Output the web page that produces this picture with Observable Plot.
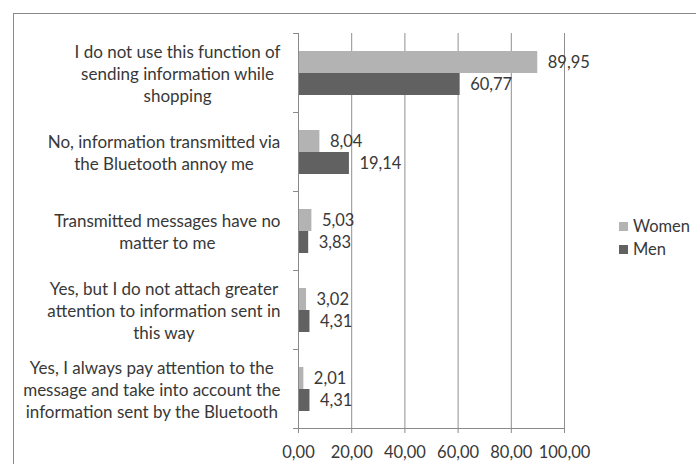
<!DOCTYPE html>
<html>
<head>
<meta charset="utf-8">
<script src="https://cdn.jsdelivr.net/npm/d3@7"></script>
<script src="https://cdn.jsdelivr.net/npm/@observablehq/plot@0.6"></script>
<style>
  html, body { margin: 0; padding: 0; background: #fff; }
  #wrap { position: relative; width: 696px; height: 464px; overflow: hidden; font-family: Lato, "Open Sans", sans-serif; }
  #border { position: absolute; left: 13px; top: 13px; width: 720px; height: 500px; border: 1px solid #8a8a8a; box-sizing: border-box; }
  #chart { position: absolute; left: 0; top: 0; }
  #legend { position: absolute; left: 619px; top: 215px; font-size: 16.5px; color: #383838; line-height: 23px; }
  #legend .item { display: flex; align-items: center; }
  #legend .sw { width: 9px; height: 9px; margin-right: 5px; }
</style>
</head>
<body>
<div id="wrap">
  <div id="border"></div>
  <div id="chart"></div>
  <div id="legend"></div>
</div>
<script>
// Survey answers (top to bottom), each label split into its display lines
const categories = [
  "I do not use this function of\nsending information while\nshopping",
  "No, information transmitted via\nthe Bluetooth annoy me",
  "Transmitted messages have no\nmatter to me",
  "Yes, but I do not attach greater\nattention to information sent in\nthis way",
  "Yes, I always pay attention to the\nmessage and take into account the\ninformation sent by the Bluetooth"
];
const series = ["Women", "Men"];
const women = [89.95, 8.04, 5.03, 3.02, 2.01];
const men = [60.77, 19.14, 3.83, 4.31, 4.31];
const xTicks = [0, 20, 40, 60, 80, 100];
const colors = ["#b3b3b3", "#616161"];

const W = 696, H = 464;
const margin = {top: 33, right: 132, bottom: 36, left: 298};
const plotW = W - margin.left - margin.right;
const labelSize = 17;   // category labels
const numSize = 16.5;   // values and tick labels
const textColor = "#383838";

const rows = [];
categories.forEach((c, i) => {
  rows.push({category: c, series: "Women", value: women[i]});
  rows.push({category: c, series: "Men", value: men[i]});
});

const locale = d3.formatLocale({decimal: ",", thousands: ".", grouping: [3], currency: ["", ""]});
const fmt = locale.format(".2f");

// Category labels: each block right-aligned against the axis, lines centred within the block
const ctx = document.createElement("canvas").getContext("2d");
ctx.font = `${labelSize}px Lato`;
const labelGap = 18;
const labelMarks = categories.map(c => {
  const blockW = d3.max(c.split("\n"), s => ctx.measureText(s).width);
  return Plot.text([c], {
    fy: d => d,
    text: d => d,
    frameAnchor: "left",
    textAnchor: "middle",
    dx: -(labelGap + blockW / 2),
    lineHeight: 22 / labelSize,
    fill: textColor,
    fontSize: labelSize
  });
});

const chart = Plot.plot({
  width: W,
  height: H,
  marginTop: margin.top,
  marginRight: margin.right,
  marginBottom: margin.bottom,
  marginLeft: margin.left,
  style: {fontFamily: "Lato, sans-serif", fontSize: `${numSize}px`, color: textColor, background: "transparent"},
  x: {domain: [0, 100], ticks: xTicks, tickFormat: fmt, label: null},
  y: {domain: series, paddingInner: 0, paddingOuter: 0.755, axis: null},
  fy: {domain: categories, padding: 0, axis: null},
  color: {domain: series, range: colors},
  marks: [
    Plot.ruleX(xTicks.slice(1), {stroke: "#8f8f8f", strokeOpacity: 1}),
    Plot.frame({anchor: "top", insetLeft: -5, insetRight: plotW, stroke: "#8a8a8a", strokeOpacity: 1}),
    Plot.barX(rows, {fy: "category", y: "series", x: "value", fill: "series"}),
    Plot.text(rows, {fy: "category", y: "series", x: "value", text: d => fmt(d.value), textAnchor: "start", dx: 10, fill: textColor, fontSize: numSize}),
    Plot.ruleX([0], {stroke: "#8a8a8a", strokeOpacity: 1}),
    Plot.frame({anchor: "bottom", facet: "super", insetLeft: -5, stroke: "#8a8a8a", strokeOpacity: 1}),
    Plot.axisX({anchor: "bottom", ticks: xTicks, tickFormat: fmt, tickSize: 5, tickPadding: 13, stroke: "#8a8a8a", fill: textColor, fontSize: numSize, label: null}),
    ...labelMarks
  ]
});
document.getElementById("chart").appendChild(chart);

// Legend
const legend = document.getElementById("legend");
series.forEach((s, i) => {
  const item = document.createElement("div");
  item.className = "item";
  const sw = document.createElement("span");
  sw.className = "sw";
  sw.style.background = colors[i];
  const t = document.createElement("span");
  t.textContent = s;
  item.append(sw, t);
  legend.appendChild(item);
});
</script>
</body>
</html>
